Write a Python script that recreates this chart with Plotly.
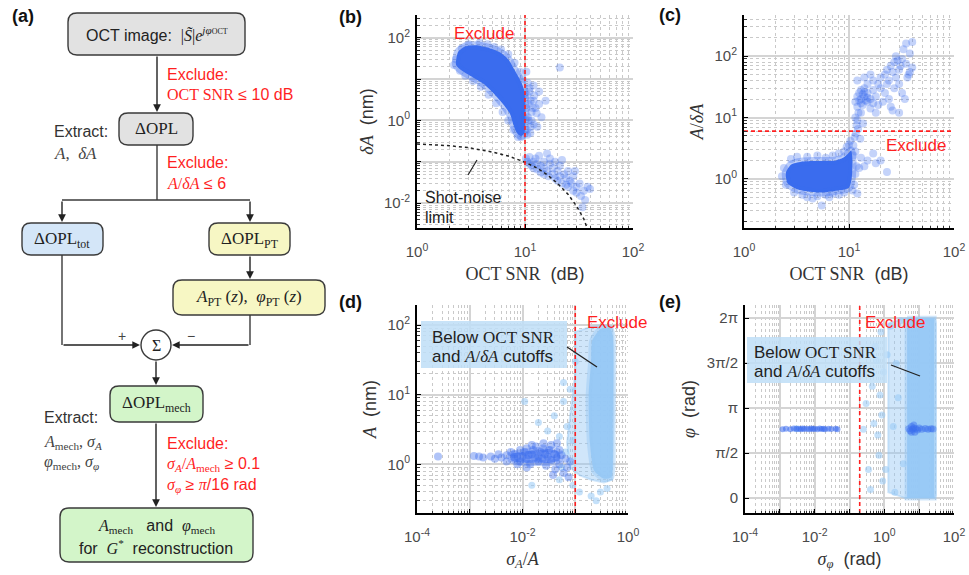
import plotly.graph_objects as go

W, H = 969, 575
SERIF = "Liberation Serif"
SANS = "Liberation Sans"
BLUE = "rgb(58,108,238)"
BLUE_HALO = "rgba(58,108,238,0.35)"
BLUE_PT = "rgba(58,108,238,0.30)"
BLUE_MID = "rgba(58,108,238,0.55)"
LBLUE = "rgba(150,200,245,0.95)"
LBLUE_SOFT = "rgba(150,200,245,0.45)"
LBLUE_PT = "rgba(150,200,245,0.55)"
RED = "#ff1f1f"
PI = 3.141592653589793

# ---------------- data ----------------
snr_cut = 10
ratio_cut = 6
sigA_cut = 0.1
sigphi_cut = PI / 16

# (b) OCT SNR vs deltaA
b_core = [(2.3, 22), (2.4, 45), (2.8, 62), (3.5, 66), (4.5, 58), (5.9, 44), (7.0, 30), (7.7, 20),
          (8.6, 12), (9.3, 8), (9.9, 5), (9.9, 0.5), (9.2, 0.42), (8.4, 0.5), (7.8, 0.8), (7.3, 1.4),
          (6.5, 2.2), (5.9, 3.0), (5.0, 4.8), (4.1, 7.8), (3.3, 11), (2.7, 15)]
b_points = [(2.2, 22), (2.3, 30), (2.6, 55), (3.0, 70), (3.8, 75), (4.5, 70), (5.2, 60), (6.0, 52),
            (7.0, 40), (8.0, 25), (9.0, 15), (9.5, 10), (9.8, 4), (9.7, 1.2), (9.2, 0.4), (8.6, 0.4),
            (7.8, 0.6), (7.0, 1.0), (6.2, 1.6), (5.4, 2.6), (4.6, 4.2), (3.9, 6.5), (3.3, 9), (2.8, 12),
            (2.5, 16), (10.3, 15), (10.6, 8), (11, 5), (11.3, 3), (11.8, 2), (12.2, 4), (12.8, 1.5),
            (13.5, 2.5), (14.2, 1.2), (15.5, 3), (10.4, 0.6), (11.2, 0.5), (12, 0.8), (13, 0.7),
            (10.8, 1), (11.5, 1.6), (21, 19), (10.5, 4), (10.8, 2.5), (11, 6), (11.5, 1), (12, 3),
            (12.5, 2), (10.3, 2), (10.6, 1.2), (11.2, 0.7), (10.5, 0.45), (13.5, 5), (12, 7),
            (10.2, 0.12), (10.5, 0.1), (11, 0.09), (11, 0.13), (11.5, 0.08), (12, 0.1), (12, 0.07),
            (12.5, 0.12), (13, 0.09), (13, 0.065), (13.5, 0.14), (14, 0.08), (14, 0.055), (15, 0.1),
            (15, 0.07), (15, 0.05), (16, 0.16), (16, 0.06), (16.5, 0.045), (17, 0.09), (17, 0.12),
            (18, 0.05), (18, 0.07), (19, 0.04), (19, 0.1), (20, 0.06), (20, 0.035), (21, 0.08),
            (21, 0.045), (22, 0.03), (22, 0.11), (23, 0.05), (24, 0.028), (24, 0.04), (25, 0.06),
            (25, 0.025), (26, 0.035), (27, 0.03), (28, 0.02), (28, 0.045), (30, 0.025), (30, 0.018),
            (32, 0.03), (33, 0.015), (35, 0.02), (36, 0.012), (38, 0.025), (34, 0.008), (40, 0.022),
            (29, 0.06)]
shot_snr = [1, 1.5, 2, 3, 4, 5, 7, 10, 13, 16, 20, 25, 30, 35, 37]
shot_dA = [0.27, 0.26, 0.245, 0.22, 0.195, 0.172, 0.138, 0.098, 0.07, 0.049, 0.03, 0.0165,
           0.0085, 0.0042, 0.0028]

# (c) OCT SNR vs A/deltaA
c_core = [(2.6, 0.85), (2.5, 1.25), (2.8, 1.7), (3.5, 1.9), (4.5, 1.95), (6, 1.95), (7.5, 2.0),
          (8.8, 2.2), (9.8, 2.6), (10.5, 2.9), (10.8, 2.0), (10.6, 1.0), (10, 0.72), (8.5, 0.66),
          (7, 0.63), (5.5, 0.6), (4.2, 0.62), (3.2, 0.68)]
c_points = [(2.3, 1.1), (2.4, 1.5), (2.5, 0.8), (2.8, 2.1), (3.2, 2.3), (3, 0.6), (3.6, 0.55),
            (4, 0.5), (4.5, 0.48), (5, 0.52), (5.5, 0.37), (6, 0.55), (6.5, 0.5), (7, 0.58),
            (8, 0.55), (9, 0.6), (4, 2.3), (5, 2.4), (6, 2.2), (7, 2.4), (8, 2.6), (9, 2.8),
            (9.5, 3.3), (10, 3.6), (10.3, 4.2), (10.8, 0.65), (11.2, 0.8), (11.5, 1.2), (11.8, 1.6),
            (12, 0.58), (11, 2.4), (11.5, 2.8), (12.5, 1.5), (13, 2.2), (14, 1.6), (15, 2.0),
            (17, 2.6), (18, 1.8), (20, 2.0), (23, 1.3), (11, 3.5), (11.3, 4.8), (11.6, 5.5),
            (11.8, 7.5), (12, 9), (12.2, 6.5), (11.5, 10), (12.3, 12), (13.6, 8), (12.8, 4.5),
            (11.5, 18), (12, 15), (12, 22), (12.5, 25), (13, 20), (13, 28), (13.5, 16), (14, 22),
            (14, 30), (15, 18), (15, 25), (15, 35), (16, 20), (16, 14), (17, 28), (17, 40), (18, 22),
            (18, 12), (19, 35), (20, 30), (20, 45), (21, 18), (22, 50), (22, 25), (23, 60), (24, 40),
            (25, 70), (25, 15), (26, 55), (27, 80), (28, 45), (28, 100), (30, 60), (30, 35), (32, 90),
            (32, 25), (33, 130), (35, 75), (35, 160), (36, 45), (38, 110), (38, 55), (40, 65),
            (40, 170), (30, 12), (26, 13), (34, 20), (37, 50), (29, 85), (31, 70), (14, 45), (16, 50),
            (12, 40), (13, 12), (17, 17), (19, 16), (23, 35), (24, 20), (27, 30), (12.5, 19),
            (13.5, 24), (14.5, 19), (13, 17), (14, 26), (15, 21)]

# (d) sigma_A/A vs A
d_core = [(0.006, 1.15), (0.01, 1.05), (0.02, 1.05), (0.035, 1.05), (0.05, 1.15), (0.05, 1.5),
          (0.035, 1.65), (0.02, 1.6), (0.01, 1.5), (0.006, 1.4)]
d_kept = [(0.00025, 1.3), (0.0012, 1.32), (0.0015, 1.3), (0.0018, 1.25), (0.0025, 1.3), (0.003, 1.2),
          (0.0035, 1.4), (0.004, 1.25), (0.005, 1.35), (0.005, 1.1), (0.006, 1.5), (0.007, 1.2),
          (0.007, 1.4), (0.008, 1.3), (0.008, 1.0), (0.009, 1.6), (0.009, 1.1), (0.01, 1.3),
          (0.011, 1.5), (0.012, 1.2), (0.012, 1.7), (0.012, 0.9), (0.013, 1.35), (0.014, 1.0),
          (0.015, 1.4), (0.015, 1.9), (0.016, 1.6), (0.017, 1.25), (0.018, 1.8), (0.02, 1.3),
          (0.02, 1.1), (0.022, 1.5), (0.024, 1.2), (0.025, 1.7), (0.025, 2.0), (0.027, 1.4),
          (0.028, 0.95), (0.03, 1.3), (0.032, 1.6), (0.035, 1.15), (0.035, 1.9), (0.038, 0.7),
          (0.04, 1.4), (0.042, 0.85), (0.045, 1.25), (0.045, 2.0), (0.05, 1.6), (0.05, 1.0),
          (0.055, 1.35), (0.06, 0.75), (0.065, 1.2), (0.07, 0.9), (0.075, 0.65), (0.08, 1.1)]
d_excl_outer = [(0.1, 80), (0.2, 95), (0.35, 100), (0.5, 95), (0.53, 50), (0.53, 5), (0.5, 0.6),
                (0.35, 0.55), (0.2, 0.6), (0.12, 0.7), (0.08, 0.9), (0.07, 2), (0.08, 5), (0.1, 20)]
d_excl_inner = [(0.21, 60), (0.3, 88), (0.45, 92), (0.51, 70), (0.51, 3), (0.48, 0.65), (0.35, 0.62),
                (0.23, 0.8), (0.19, 2), (0.18, 10), (0.2, 30)]
d_excl_pts = [(0.03, 3), (0.04, 5), (0.05, 2.5), (0.06, 8), (0.07, 3.5), (0.08, 12), (0.09, 2.2),
              (0.1, 30), (0.09, 0.5), (0.12, 0.4), (0.2, 0.35), (0.3, 0.4), (0.4, 0.45), (0.015, 0.5),
              (0.05, 0.6), (0.06, 15), (0.02, 4), (0.25, 0.3), (0.011, 8), (0.065, 1.5), (0.055, 0.9)]

# (e) sigma_phi vs phi
e_kept = [(0.0012, 2.4), (0.0015, 2.42), (0.002, 2.4), (0.0025, 2.43), (0.003, 2.41), (0.0035, 2.42),
          (0.004, 2.4), (0.0045, 2.43), (0.005, 2.41), (0.006, 2.42), (0.007, 2.4), (0.008, 2.43),
          (0.009, 2.41), (0.01, 2.42), (0.012, 2.4), (0.014, 2.43), (0.016, 2.41), (0.018, 2.42),
          (0.02, 2.4), (0.025, 2.42), (0.03, 2.41), (0.04, 2.42), (0.045, 2.4)]
e_excl_outer = [(1.3, 6.1), (4, 6.28), (28, 6.28), (30, 6.1), (30, 0.1), (28, 0), (4, 0), (1.3, 0.2)]
e_excl_inner = [(4.5, 6.28), (27, 6.28), (27, 0), (4.5, 0)]
e_excl_pts = [(0.3, 3.3), (0.5, 2.6), (0.6, 4.8), (0.7, 1.5), (0.8, 5.8), (0.9, 0.6), (0.45, 3.9),
              (0.35, 1.0), (0.65, 2.2), (0.75, 3.6), (0.55, 5.3), (0.95, 4.4), (0.85, 2.9), (1.1, 1.0),
              (1.2, 5.0), (0.4, 0.3), (1.5, 6.0), (2, 0.2), (3, 6.2), (2.5, 3.5), (1.8, 2.5),
              (3.5, 1.2), (2.2, 4.7), (0.003, 2.42), (0.25, 2.4)]
e_dark = [(5, 2.42), (5.5, 2.35), (6, 2.5), (6.5, 2.4), (7, 2.45), (7.5, 2.3), (8, 2.42), (9, 2.38),
          (10, 2.45), (12, 2.4), (15, 2.43), (18, 2.4), (22, 2.42), (25, 2.41), (6, 2.3), (7, 2.55)]


# ---------------- helpers ----------------
def X(p):
    return p / W


def Y(p):
    return 1 - p / H


def T(s):
    return f'<span style="font-family:{SERIF}">{s}</span>'


fig = go.Figure()


def poly(pairs, color, xa, ya, lw=3, lc=None, smooth=True):
    xs = [p[0] for p in pairs] + [pairs[0][0]]
    ys = [p[1] for p in pairs] + [pairs[0][1]]
    ln = dict(color=lc or color, width=lw)
    if smooth:
        ln.update(shape="spline", smoothing=0.6)
    fig.add_trace(go.Scatter(x=xs, y=ys, mode="lines", fill="toself", fillcolor=color, line=ln,
                             xaxis=xa, yaxis=ya, hoverinfo="skip"))


def pts(pairs, color, xa, ya, size=7):
    fig.add_trace(go.Scatter(x=[p[0] for p in pairs], y=[p[1] for p in pairs], mode="markers",
                             marker=dict(color=color, size=size, line=dict(width=0)),
                             xaxis=xa, yaxis=ya, hoverinfo="skip"))


def vline(xv, ylo, yhi, xa, ya):
    fig.add_trace(go.Scatter(x=[xv, xv], y=[ylo, yhi], mode="lines",
                             line=dict(color=RED, width=1.6, dash="4px,3px"), xaxis=xa, yaxis=ya))


# (b)
poly(b_core, BLUE, "x", "y", 8, BLUE_HALO)
pts(b_points, BLUE_PT, "x", "y", 8)
fig.add_trace(go.Scatter(x=shot_snr, y=shot_dA, mode="lines", line=dict(color="#222", width=1.5, dash="dot"),
                         xaxis="x", yaxis="y"))
vline(snr_cut, 10 ** -2.6, 10 ** 2.55, "x", "y")

# (c)
poly(c_core, BLUE, "x2", "y2", 8, BLUE_HALO)
pts(c_points, BLUE_PT, "x2", "y2", 8)
fig.add_trace(go.Scatter(x=[1, 100], y=[ratio_cut, ratio_cut], mode="lines",
                         line=dict(color=RED, width=1.6, dash="4px,3px"), xaxis="x2", yaxis="y2"))

# (d)
poly(d_excl_outer, LBLUE_SOFT, "x3", "y3", 2, smooth=False)
poly(d_excl_inner, LBLUE, "x3", "y3", 6, LBLUE_SOFT)
pts(d_excl_pts, LBLUE_PT, "x3", "y3", 7)
poly(d_core, BLUE_MID, "x3", "y3", 6, BLUE_PT)
pts(d_kept, "rgba(58,108,238,0.40)", "x3", "y3", 8)
vline(sigA_cut, 10 ** -0.7, 10 ** 2.29, "x3", "y3")

# (e)
poly(e_excl_outer, LBLUE_SOFT, "x4", "y4", 2, smooth=False)
poly(e_excl_inner, LBLUE, "x4", "y4", 5, LBLUE_SOFT, smooth=False)
pts(e_excl_pts, LBLUE_PT, "x4", "y4", 7)
pts(e_kept, "rgba(58,108,238,0.55)", "x4", "y4", 6)
pts(e_dark, "rgba(58,108,238,0.45)", "x4", "y4", 7)
vline(sigphi_cut, -0.52, 6.74, "x4", "y4")

# ---------------- axes ----------------
TICKFONT = dict(family=SANS, size=15, color="#4a4a4a")
TITLEFONT = dict(family=SANS, size=18, color="#333")
MINOR_LOG = dict(dtick="D1", showgrid=True, griddash="dot", gridcolor="#c9c9c9", gridwidth=1,
                 ticks="inside", ticklen=2.5, tickcolor="#333")


def sup(e):
    return f"10<sup>{e}</sup>"


def ax(domain, anchor, rng, title, tickvals, ticktext, log=True, standoff=6, tls=2):
    d = dict(domain=domain, anchor=anchor, range=rng, showline=True, linecolor="black", linewidth=2,
             ticks="inside", ticklen=4, tickcolor="black", showgrid=True, gridcolor="#d4d4d4",
             gridwidth=2, zeroline=False, tickfont=TICKFONT, tickmode="array", tickvals=tickvals,
             ticktext=ticktext, title=dict(text=title, font=TITLEFONT, standoff=standoff),
             automargin=False, mirror=False, ticklabelstandoff=tls)
    if log:
        d["type"] = "log"
        d["minor"] = MINOR_LOG
    return d


xb = [X(417), X(633)]
yb = [Y(228), Y(15)]
xc = [X(744), X(954)]
xd = [X(417), X(628)]
yd = [Y(513), Y(305)]
xe = [X(745), X(954)]

fig.update_layout(
    xaxis=ax(xb, "y", [0, 2], T("OCT SNR") + "  (dB)", [1, 10, 100], [sup(0), sup(1), sup(2)],
             standoff=8, tls=9),
    yaxis=ax(yb, "x", [-2.6, 2.55], T("<i>δA</i>") + "  (nm)", [0.01, 0.1, 1, 10, 100],
             [sup("-2"), "", sup(0), "", sup(2)]),
    xaxis2=ax(xc, "y2", [0, 2], T("OCT SNR") + "  (dB)", [1, 10, 100], [sup(0), sup(1), sup(2)],
              standoff=8, tls=9),
    yaxis2=ax(yb, "x2", [-0.8, 2.67], T("<i>A</i>/<i>δA</i>"), [1, 10, 100], [sup(0), sup(1), sup(2)]),
    xaxis3=ax(xd, "y3", [-4, 0], T("<i>σ<sub>A</sub></i>/<i>A</i>"), [1e-4, 1e-3, 1e-2, 1e-1, 1],
              [sup("-4"), "", sup("-2"), "", sup(0)], standoff=8, tls=9),
    yaxis3=ax(yd, "x3", [-0.7, 2.29], T("<i>A</i>") + "  (nm)", [1, 10, 100], [sup(0), sup(1), sup(2)]),
    xaxis4=ax(xe, "y4", [-4, 2], T("<i>σ</i><sub><i>φ</i></sub>") + "  (rad)",
              [1e-4, 1e-3, 1e-2, 1e-1, 1, 10, 100],
              [sup("-4"), "", sup("-2"), "", sup(0), "", sup(2)], standoff=8, tls=9),
    yaxis4=ax(yd, "x4", [-0.52, 6.74], T("<i>φ</i>") + "  (rad)", [0, PI / 2, PI, 3 * PI / 2, 2 * PI],
              ["0", "π/2", "π", "3π/2", "2π"], log=False),
)

# ---------------- flowchart (a) ----------------
shapes = []
annots = []
EDGE = "#3a3a3a"


def rrect(x0, y0, x1, y1, fill, r=9):
    path = (f"M {X(x0 + r)},{Y(y0)} L {X(x1 - r)},{Y(y0)} Q {X(x1)},{Y(y0)} {X(x1)},{Y(y0 + r)} "
            f"L {X(x1)},{Y(y1 - r)} Q {X(x1)},{Y(y1)} {X(x1 - r)},{Y(y1)} "
            f"L {X(x0 + r)},{Y(y1)} Q {X(x0)},{Y(y1)} {X(x0)},{Y(y1 - r)} "
            f"L {X(x0)},{Y(y0 + r)} Q {X(x0)},{Y(y0)} {X(x0 + r)},{Y(y0)} Z")
    shapes.append(dict(type="path", path=path, xref="paper", yref="paper", fillcolor=fill,
                       line=dict(color=EDGE, width=1.4), layer="above"))


def line(x0, y0, x1, y1, color=EDGE, width=1.4):
    shapes.append(dict(type="line", xref="paper", yref="paper", x0=X(x0), y0=Y(y0), x1=X(x1), y1=Y(y1),
                       line=dict(color=color, width=width), layer="above"))


def arrow(x0, y0, x1, y1):
    annots.append(dict(xref="paper", yref="paper", x=X(x1), y=Y(y1), ax=x0 - x1, ay=y0 - y1,
                       axref="pixel", ayref="pixel", text="", showarrow=True, arrowhead=2,
                       arrowsize=1.1, arrowwidth=1.4, arrowcolor="#222", standoff=0, startstandoff=0))


def text(x, y, s, size=16, color="#333", xanchor="center"):
    annots.append(dict(xref="paper", yref="paper", x=X(x), y=Y(y), text=s, showarrow=False,
                       xanchor=xanchor, yanchor="middle", font=dict(family=SANS, size=size, color=color)))


GRAY = "#e2e2e2"
LBOX = "#d4e6f8"
YBOX = "#f7f7c4"
GBOX = "#d3f5c9"

rrect(68, 13, 245, 55, GRAY)
rrect(119, 113, 193, 145, GRAY)
rrect(22, 223, 103, 255, LBOX)
rrect(209, 223, 290, 255, YBOX)
rrect(173, 280, 325, 315, YBOX)
rrect(110, 386, 203, 422, GBOX)
rrect(60, 508, 253, 562, GBOX)
shapes.append(dict(type="circle", xref="paper", yref="paper", x0=X(141), x1=X(171), y0=Y(360), y1=Y(330),
                   fillcolor="white", line=dict(color=EDGE, width=1.4), layer="above"))

arrow(157, 55, 157, 112)
line(157, 145, 157, 200)
line(62, 200, 250, 200)
arrow(62, 200, 62, 222)
arrow(250, 200, 250, 222)
arrow(250, 255, 250, 279)
line(62, 255, 62, 345)
arrow(62, 345, 140, 345)
line(250, 315, 250, 345)
arrow(250, 345, 172, 345)
arrow(156, 360, 156, 385)
arrow(156, 422, 156, 507)

text(10, 16, "<b>(a)</b>", 18, "#111", "left")
text(157, 34, "OCT image:  " + T("|<i>S̃</i>|<i>e</i><sup><i>jφ</i><span style='font-size:8px'>OCT</span></sup>"),
     16, "#222")
text(165, 74, "Exclude:", 16, RED, "left")
text(165, 95, T("OCT SNR") + " ≤ 10 dB", 16, RED, "left")
text(156, 129, T("ΔOPL"), 17, "#222")
text(52, 132, "Extract:", 16, "#333", "left")
text(52, 153, T("<i>A</i>,  <i>δA</i>"), 17, "#444", "left")
text(165, 163, "Exclude:", 16, RED, "left")
text(165, 183, T("<i>A</i>/<i>δA</i>") + " ≤ 6", 16, RED, "left")
text(62, 240, T("ΔOPL<sub>tot</sub>"), 17, "#222")
text(250, 240, T("ΔOPL<sub>PT</sub>"), 17, "#222")
text(249, 298, T("<i>A</i><sub>PT</sub> (<i>z</i>),  <i>φ</i><sub>PT</sub> (<i>z</i>)"), 17, "#222")
text(156, 345, T("Σ"), 16, "#222")
text(122, 336, "+", 14, "#444")
text(191, 336, "−", 14, "#444")
text(156, 404, T("ΔOPL<sub>mech</sub>"), 17, "#222")
text(42, 417, "Extract:", 16, "#333", "left")
text(42, 442, T("<i>A</i><sub>mech</sub>, <i>σ<sub>A</sub></i>"), 16, "#444", "left")
text(42, 462, T("<i>φ</i><sub>mech</sub>, <i>σ<sub>φ</sub></i>"), 16, "#444", "left")
text(165, 443, "Exclude:", 16, RED, "left")
text(165, 464, T("<i>σ<sub>A</sub></i>/<i>A</i><sub>mech</sub>") + " ≥ 0.1", 16, RED, "left")
text(165, 485, T("<i>σ<sub>φ</sub></i>") + " ≥ " + T("<i>π</i>") + "/16 rad", 16, RED, "left")
text(156, 526, T("<i>A</i><sub>mech</sub>") + "   and  " + T("<i>φ</i><sub>mech</sub>"), 16, "#222")
text(156, 547, "for  " + T("<i>G</i><sup>*</sup>") + "  reconstruction", 16, "#222")

# ---------------- panel labels & in-plot annotations ----------------
text(337, 17, "<b>(b)</b>", 18, "#111", "left")
text(657, 15, "<b>(c)</b>", 18, "#111", "left")
text(337, 302, "<b>(d)</b>", 18, "#111", "left")
text(657, 302, "<b>(e)</b>", 18, "#111", "left")

text(484, 33, "Exclude", 17, RED)
text(916, 145, "Exclude", 17, RED)
text(617, 322, "Exclude", 17, RED)
text(895, 322, "Exclude", 17, RED)

text(423, 197, "Shot-noise", 16, "#222", "left")
text(423, 217, "limit", 16, "#222", "left")
line(468, 175, 477, 160, "#222", 1.2)

shapes.append(dict(type="rect", xref="paper", yref="paper", x0=X(421), x1=X(567), y0=Y(368), y1=Y(321),
                   fillcolor="rgba(190,222,247,0.85)", line=dict(width=0), layer="above"))
text(430, 337, "Below " + T("OCT SNR"), 17, "#222", "left")
text(430, 356, "and " + T("<i>A</i>/<i>δA</i>") + " cutoffs", 17, "#222", "left")
line(567, 347, 597, 367, "#222", 1.3)

shapes.append(dict(type="rect", xref="paper", yref="paper", x0=X(747), x1=X(887), y0=Y(383), y1=Y(337),
                   fillcolor="rgba(190,222,247,0.85)", line=dict(width=0), layer="above"))
text(752, 352, "Below " + T("OCT SNR"), 17, "#222", "left")
text(752, 371, "and " + T("<i>A</i>/<i>δA</i>") + " cutoffs", 17, "#222", "left")
line(891, 365, 920, 376, "#222", 1.3)

fig.update_layout(
    width=W, height=H, margin=dict(l=0, r=0, t=0, b=0), template="none",
    paper_bgcolor="white", plot_bgcolor="white", showlegend=False,
    font=dict(family=SANS, color="#222"), shapes=shapes, annotations=annots,
)

fig.write_html("out.html", config={"displayModeBar": False},
               post_script="document.body.style.margin='0';document.body.style.overflow='hidden';")
